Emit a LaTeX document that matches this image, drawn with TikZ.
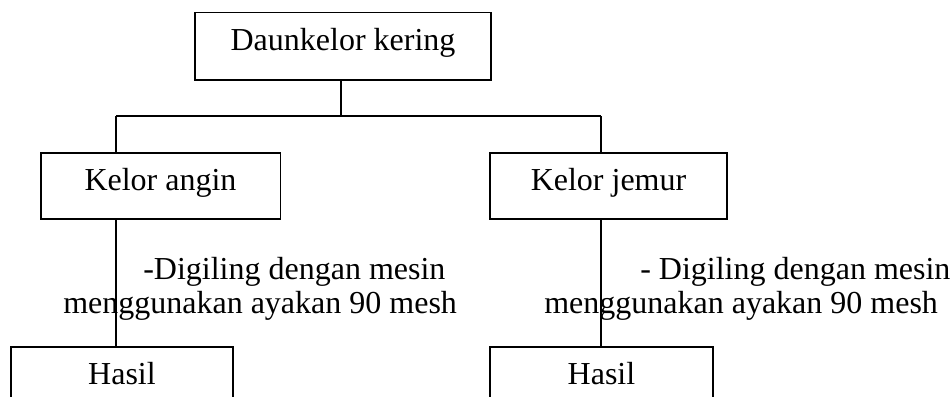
\documentclass[tikz,border=0pt]{standalone}
\usepackage{fontspec}
\setmainfont{Liberation Serif}
\usepackage{tikz}

\tikzset{
  boxnode/.style={draw, line width=1pt, inner sep=0pt, align=center,
    text height=0.8em, text depth=0.2em},
  labeltext/.style={anchor=base west, inner sep=0pt}
}

\begin{document}
\begin{tikzpicture}[x=0.75pt,y=0.75pt,yscale=-1,xscale=1,font=\fontsize{24}{26}\selectfont]
\useasboundingbox (0,0) rectangle (952,396);
\clip (0,0) rectangle (952,396);

%Shape: Rectangle [id:daun]
\node [boxnode, minimum width=222pt, minimum height=50.5pt] (daun) at (343,46.4) {Daunkelor kering};
%Shape: Rectangle [id:angin]
\node [boxnode, minimum width=179.5pt, minimum height=49.5pt] (angin) at (160.5,186) {Kelor angin};
%Shape: Rectangle [id:jemur]
\node [boxnode, minimum width=177.75pt, minimum height=49.5pt] (jemur) at (608.5,186) {Kelor jemur};
%Shape: Rectangle [id:hasilA]
\node [boxnode, minimum width=166.5pt, minimum height=49.5pt] (hasilA) at (122,380) {Hasil};
%Shape: Rectangle [id:hasilB]
\node [boxnode, minimum width=167.25pt, minimum height=49.5pt] (hasilB) at (601.5,380) {Hasil};

%Straight Lines [id:split]
\coordinate (splitA) at (116,116);
\coordinate (splitB) at (601,116);
\draw [line width=1pt] (daun.south -| 341,0) -- (splitA -| 341,0);
\draw [line width=1pt] (splitA) -- (splitB);
\draw [line width=1pt] (splitA) -- (splitA |- angin.north);
\draw [line width=1pt] (splitB) -- (splitB |- jemur.north);
%Straight Lines [id:giling]
\draw [line width=1pt] (splitA |- angin.south) -- (splitA |- hasilA.north);
\draw [line width=1pt] (splitB |- jemur.south) -- (splitB |- hasilB.north);

% Text Node
\node [labeltext] (gilingA1) at (143,279) {-Digiling dengan mesin};
% Text Node
\node [labeltext] (gilingA2) at (63,313) {menggunakan ayakan 90 mesh};
% Text Node
\node [labeltext] (gilingB1) at (640,279) {- Digiling dengan mesin};
% Text Node
\node [labeltext] (gilingB2) at (544,313) {menggunakan ayakan 90 mesh};

\end{tikzpicture}
\end{document}
